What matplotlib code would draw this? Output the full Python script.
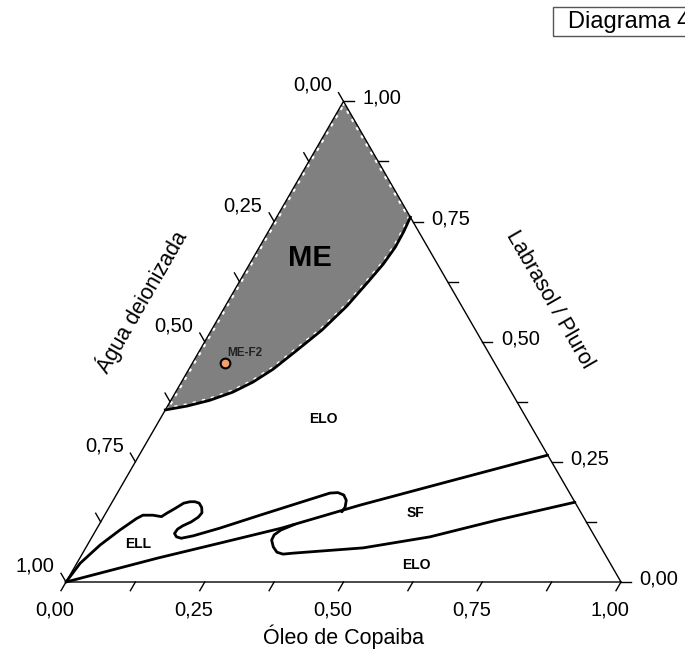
import numpy as np
import matplotlib.pyplot as plt

plt.rcParams['font.family'] = ['Liberation Sans', 'DejaVu Sans']

# Composições lidas no diagrama: fração de óleo e fração de Labrasol/Plurol
# (água = 1 - óleo - tensoativo)

# limite inferior da região ME (da aresta da água até a aresta do tensoativo)
me_oleo = [0.000, 0.035, 0.070, 0.103, 0.129, 0.152, 0.175, 0.199, 0.219, 0.232, 0.241, 0.245, 0.244, 0.241]
me_tens = [0.358, 0.366, 0.378, 0.395, 0.416, 0.443, 0.482, 0.524, 0.574, 0.624, 0.662, 0.697, 0.729, 0.759]

# limite superior da região ELL, terminando na linha superior do SF
ell_oleo = [0.000, 0.006, 0.023, 0.043, 0.061, 0.069, 0.087, 0.104, 0.110, 0.120,
            0.130, 0.140, 0.149, 0.158, 0.167, 0.173, 0.171, 0.163, 0.152, 0.146,
            0.145, 0.152, 0.162, 0.181, 0.221, 0.280, 0.383, 0.397, 0.410, 0.420,
            0.425, 0.424]
ell_tens = [0.000, 0.039, 0.077, 0.108, 0.132, 0.139, 0.139, 0.136, 0.143, 0.153,
            0.164, 0.167, 0.167, 0.164, 0.155, 0.144, 0.135, 0.125, 0.117, 0.110,
            0.101, 0.094, 0.091, 0.096, 0.112, 0.139, 0.185, 0.186, 0.181, 0.170,
            0.156, 0.146]

# limite superior do SF
sf_sup_oleo = [0.000, 0.141, 0.237, 0.332, 0.450, 0.576, 0.736]
sf_sup_tens = [0.000, 0.050, 0.081, 0.112, 0.160, 0.206, 0.264]

# limite inferior do SF
sf_inf_oleo = [0.352, 0.333, 0.326, 0.327, 0.337, 0.349, 0.362, 0.379, 0.500, 0.609, 0.713, 0.834]
sf_inf_tens = [0.120, 0.108, 0.098, 0.087, 0.073, 0.062, 0.058, 0.060, 0.071, 0.094, 0.129, 0.166]

# formulação escolhida
f2_oleo = 0.059
f2_tens = 0.455

ticks = [0.0, 0.25, 0.5, 0.75, 1.0]
ticks_menores = [0.125, 0.375, 0.625, 0.875]

h = np.sqrt(3) / 2


def tern(oleo, tens):
    oleo = np.asarray(oleo, dtype=float)
    tens = np.asarray(tens, dtype=float)
    return oleo + tens / 2, tens * h


fig = plt.figure(figsize=(6.85, 6.54), dpi=100)
ax = fig.add_axes([0, 0, 1, 1])
ax.set_xlim(-66 / 555, 619 / 555)
ax.set_ylim(-72 / 555, 582 / 555)
ax.axis('off')

# região ME preenchida
cx, cy = tern(me_oleo, me_tens)
px = np.append(cx, 0.5)
py = np.append(cy, h)
ax.fill(px, py, color='#808080', lw=0, zorder=1)
ax.plot(np.append(px, px[0]), np.append(py, py[0]), color='white', lw=4,
        ls=(0, (0.6, 1.1)), zorder=2)
ax.plot(cx, cy, color='k', lw=2.0, solid_joinstyle='round', zorder=4)

# triângulo
ax.plot([0, 1, 0.5, 0], [0, 0, h, 0], color='k', lw=1.0, zorder=3)

# linhas de fronteira
for o, t in [(ell_oleo, ell_tens), (sf_sup_oleo, sf_sup_tens), (sf_inf_oleo, sf_inf_tens)]:
    x, y = tern(o, t)
    ax.plot(x, y, color='k', lw=2.0, solid_capstyle='round', solid_joinstyle='round', zorder=4)

# marcas dos eixos
L = 10 / 555
for v in ticks + ticks_menores:
    x0, y0 = tern(1 - v, v)
    ax.plot([x0, x0 + L], [y0, y0], color='k', lw=1.0)
    x0, y0 = tern(0, 1 - v)
    ax.plot([x0, x0 - 0.5 * L], [y0, y0 + h * L], color='k', lw=1.0)
    x0, y0 = tern(v, 0)
    ax.plot([x0, x0 - 0.5 * L], [y0, y0 - h * L], color='k', lw=1.0)

fs = 14.5
for v in ticks:
    txt = f'{v:.2f}'.replace('.', ',')
    x0, y0 = tern(1 - v, v)
    ax.text(x0 + 38 / 555, y0 + 3 / 555, txt, fontsize=fs, ha='center', va='center')
    x0, y0 = tern(0, 1 - v)
    ax.text(x0 - 31 / 555, y0 + 16 / 555, txt, fontsize=fs, ha='center', va='center')
    x0, y0 = tern(v, 0)
    ax.text(x0 - 11 / 555, y0 - 28 / 555, txt, fontsize=fs, ha='center', va='center')

# títulos dos eixos
ax.text(277 / 555, -55 / 555, 'Óleo de Copaiba', fontsize=15.5, ha='center', va='center')
ax.text(75 / 555, 280 / 555, 'Água deionizada', fontsize=15.5, ha='center', va='center',
        rotation=60, rotation_mode='anchor')
ax.text(484 / 555, 282 / 555, 'Labrasol / Plurol', fontsize=15.5, ha='center', va='center',
        rotation=-60, rotation_mode='anchor')

# rótulos das regiões
x, y = tern(0.103, 0.674)
ax.text(x, y, 'ME', fontsize=21, fontweight='bold', ha='center', va='center', zorder=5)
for o, t, nome in [(0.294, 0.339, 'ELO'), (0.559, 0.143, 'SF'),
                   (0.613, 0.035, 'ELO'), (0.090, 0.079, 'ELL')]:
    x, y = tern(o, t)
    ax.text(x, y, nome, fontsize=10, fontweight='bold', ha='center', va='center', zorder=5)

# ponto ME-F2
x, y = tern(f2_oleo, f2_tens)
ax.plot(x, y, 'o', ms=7, mfc='#f3a06c', mec='k', mew=1.5, zorder=6)
ax.text(x + 2 / 555, y + 7 / 555, 'ME-F2', fontsize=8.5, fontweight='bold', color='#222222',
        ha='left', va='baseline', zorder=6)

# caixa do título (cortada na borda direita)
fig.patches.append(plt.Rectangle((553 / 685, 1 - 36 / 654), 0.3, 29 / 654, transform=fig.transFigure,
                                 fill=False, edgecolor='#555555', lw=1.0))
fig.text(568 / 685, 1 - 28 / 654, 'Diagrama 4', fontsize=17, ha='left', va='baseline')

fig.savefig('out.png', dpi=100)
